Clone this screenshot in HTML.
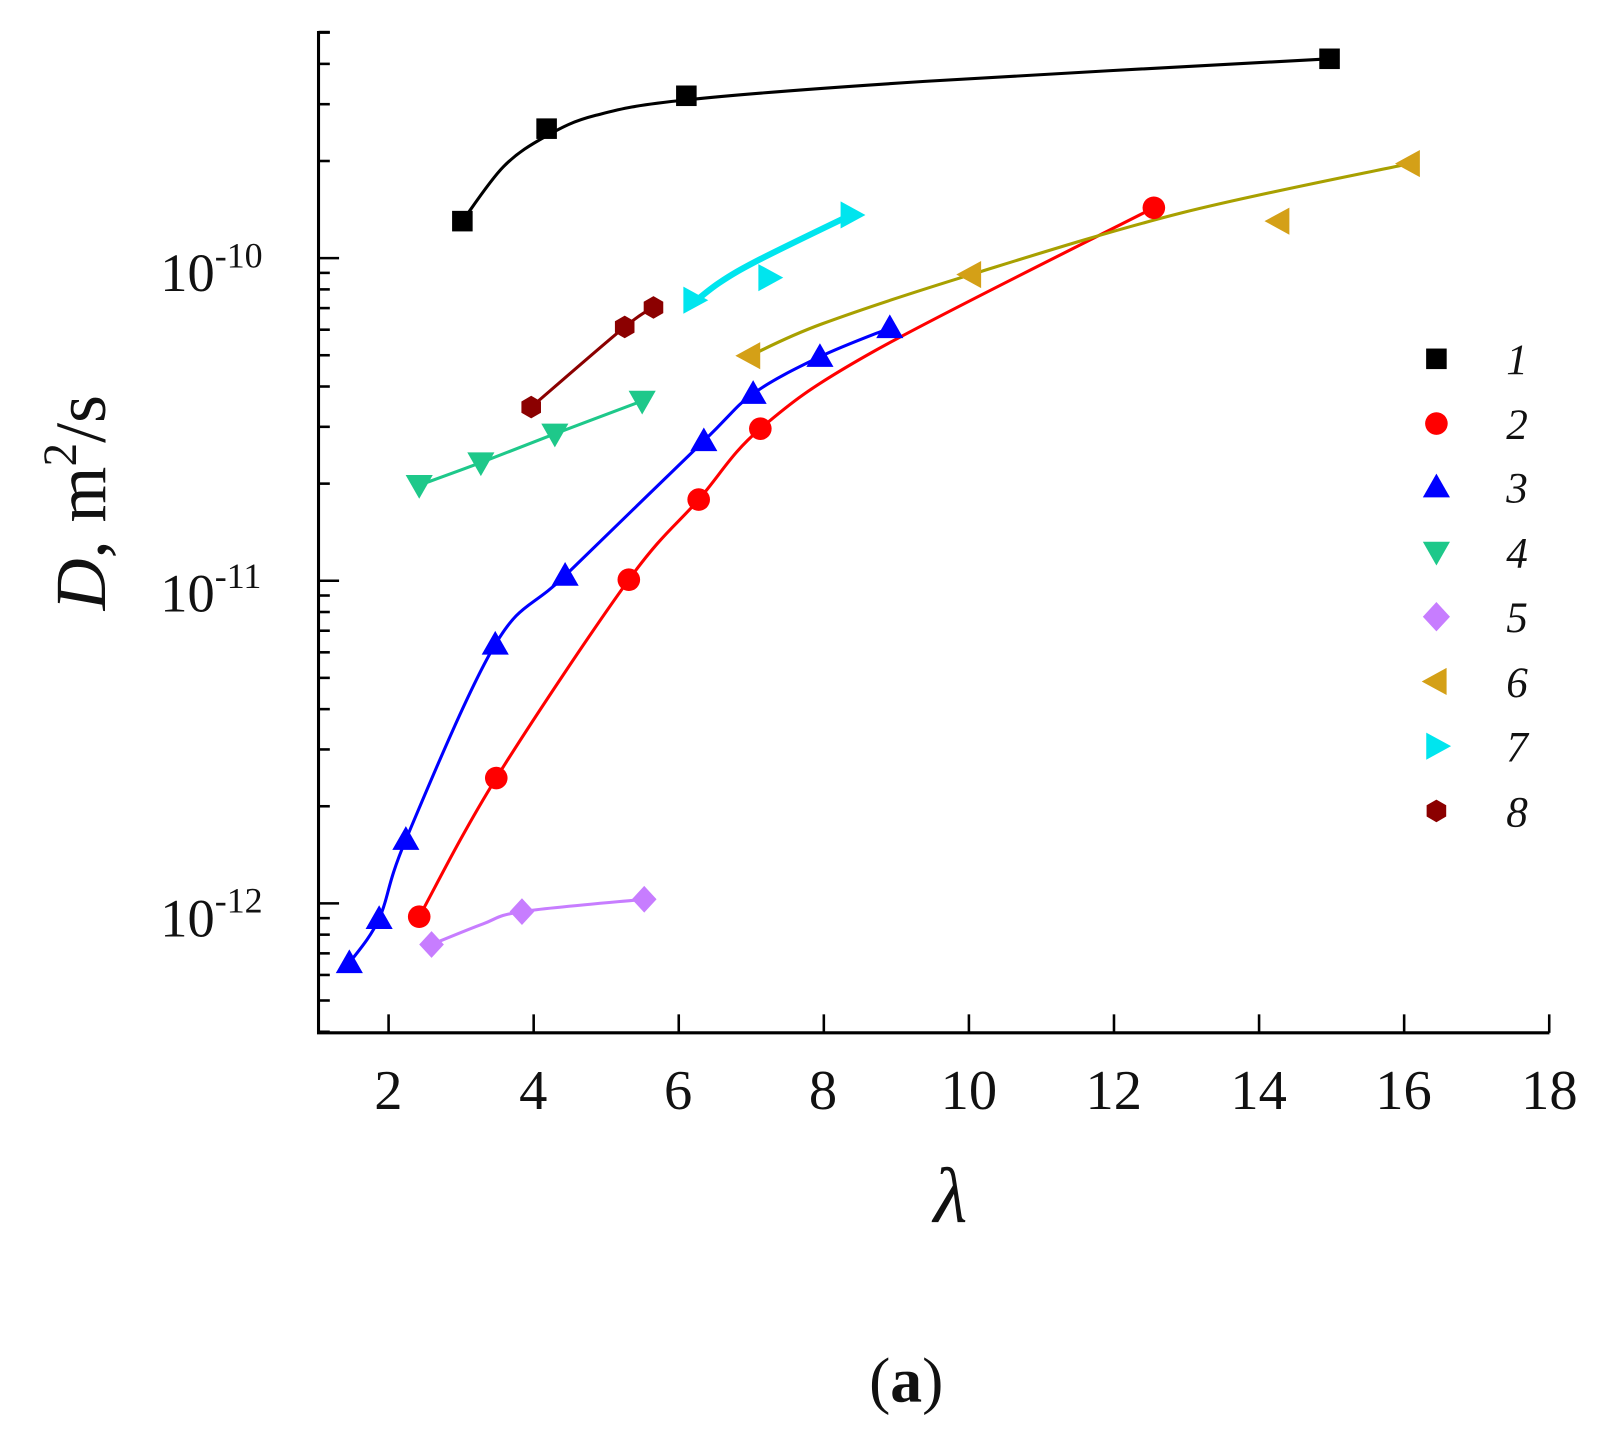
<!DOCTYPE html>
<html><head><meta charset="utf-8"><style>
html,body{margin:0;padding:0;background:#fff;width:1608px;height:1442px;overflow:hidden}
svg{display:block}
text{font-family:"Liberation Serif",serif;fill:#111}
</style></head><body>
<svg id="s" width="1608" height="1442" viewBox="0 0 1565 1403" xmlns="http://www.w3.org/2000/svg">
<g id="g" transform="translate(0,-3)">
<g font-size="53">
<text x="156" y="286">10<tspan dy="-23" font-size="35">-10</tspan></text>
<text x="156" y="598">10<tspan dy="-23" font-size="35">-11</tspan></text>
<text x="156" y="914">10<tspan dy="-23" font-size="35">-12</tspan></text>
</g>
<g font-size="55" text-anchor="middle">
<text x="378" y="1082">2</text><text x="519" y="1082">4</text><text x="660" y="1082">6</text>
<text x="801" y="1082">8</text><text x="943" y="1082">10</text><text x="1084" y="1082">12</text>
<text x="1225" y="1082">14</text><text x="1366" y="1082">16</text><text x="1508" y="1082">18</text>
</g>
<text x="925" y="1192" font-size="76" font-style="italic" text-anchor="middle">λ</text>
<text transform="translate(102,492) rotate(-90)" font-size="70" text-anchor="middle"><tspan font-style="italic">D</tspan>, m<tspan dy="-28" font-size="46">2</tspan><tspan dy="28">/s</tspan></text>
<text x="882" y="1367" font-size="62" text-anchor="middle">(<tspan font-weight="bold">a</tspan>)</text>
<g font-size="42" font-style="italic">
<text x="1466" y="367">1</text><text x="1466" y="430">2</text><text x="1466" y="492">3</text><text x="1466" y="555">4</text>
<text x="1466" y="618">5</text><text x="1466" y="681">6</text><text x="1466" y="744">7</text><text x="1466" y="807">8</text>
</g>
</g>
</svg>
<script>
var g=document.getElementById('g'),NS='http://www.w3.org/2000/svg';
function el(t,a){var e=document.createElementNS(NS,t);for(var k in a)e.setAttribute(k,a[k]);g.appendChild(e);return e;}
function X(l){return 237+70.6*l;}
function Y(lg){return 254+314*(-10-lg);}
el('path',{d:'M310,33 L310,1008 L1508,1008',fill:'none',stroke:'#000','stroke-width':3});
for(var l=2;l<=18;l+=2)el('line',{x1:X(l),x2:X(l),y1:1008,y2:990,stroke:'#000','stroke-width':2.5});
for(var d=-13;d<=-10;d++)for(var m=1;m<=9;m++){var v=d+Math.log10(m);var y=Y(v);if(y<30||y>1008)continue;
 el('line',{x1:310,x2:m==1?330:321,y1:y,y2:y,stroke:'#000','stroke-width':2.5});}
el('line',{x1:310,x2:321,y1:34,y2:34,stroke:'#000','stroke-width':2.5});
function cr(p){var s='M'+p[0][0]+','+p[0][1];for(var i=0;i<p.length-1;i++){var a=p[i-1]||p[i],b=p[i],c=p[i+1],d=p[i+2]||c;
 s+=' C'+(b[0]+(c[0]-a[0])/6)+','+(b[1]+(c[1]-a[1])/6)+' '+(c[0]-(d[0]-b[0])/6)+','+(c[1]-(d[1]-b[1])/6)+' '+c[0]+','+c[1];}return s;}
function line(p,col,w){el('path',{d:cr(p),fill:'none',stroke:col,'stroke-width':w||3});}
function mk(t,x,y,c,r){r=r||11;
 if(t=='s')el('rect',{x:x-r,y:y-r,width:2*r,height:2*r,fill:c});
 else if(t=='c')el('circle',{cx:x,cy:y,r:r,fill:c});
 else if(t=='u')el('polygon',{points:[x,y-r*1.2,x+r*1.2,y+r*0.9,x-r*1.2,y+r*0.9].join(' '),fill:c});
 else if(t=='d')el('polygon',{points:[x,y+r*1.2,x+r*1.2,y-r*0.9,x-r*1.2,y-r*0.9].join(' '),fill:c});
 else if(t=='m')el('polygon',{points:[x,y-r*1.3,x+r*1.2,y,x,y+r*1.3,x-r*1.2,y].join(' '),fill:c});
 else if(t=='l')el('polygon',{points:[x-r*1.3,y,x+r*0.9,y-r*1.2,x+r*0.9,y+r*1.2].join(' '),fill:c});
 else if(t=='r')el('polygon',{points:[x+r*1.3,y,x-r*0.9,y-r*1.2,x-r*0.9,y+r*1.2].join(' '),fill:c});
 else if(t=='h'){var q=[];for(var i=0;i<6;i++){var a=Math.PI/3*i+Math.PI/6;q.push(x+r*Math.cos(a),y+r*Math.sin(a));}el('polygon',{points:q.join(' '),fill:c});}}
line([[450,218],[490,165],[532,135],[580,115],[668,100],[900,82],[1294,60]],'#000');
line([[408,895],[483,760],[612,567],[680,489],[740,420],[850,345],[1123,205]],'#f00');
line([[340,940],[369,897],[395,820],[482,630],[550,563],[685,432],[733,386],[798,350],[866,322]],'#00f');
line([[408,475],[468,453],[540,425],[625,393]],'#1ec88a');
line([[420,922],[470,902],[508,890],[627,878]],'#c77dff');
line([[730,349],[800,318],[945,270],[1150,210],[1372,162]],'#a8a000');
line([[672,300],[700,278],[740,255],[828,212]],'#00e5ee',6);
line([[517,399],[608,321],[636,302]],'#8b0000');
[[450,218],[532,128],[668,96],[1294,60]].forEach(function(p){mk('s',p[0],p[1],'#000',10);});
[[408,895],[483,760],[612,567],[680,489],[740,420],[1123,205]].forEach(function(p){mk('c',p[0],p[1],'#f00',11);});
[[340,940],[369,897],[395,820],[482,630],[550,563],[685,432],[733,386],[798,350],[866,322]].forEach(function(p){mk('u',p[0],p[1],'#00f',11);});
[[408,475],[468,453],[540,425],[625,393]].forEach(function(p){mk('d',p[0],p[1],'#1ec88a',11);});
[[420,922],[508,890],[627,878]].forEach(function(p){mk('m',p[0],p[1],'#c77dff',10);});
[[730,349],[945,270],[1245,218],[1372,162]].forEach(function(p){mk('l',p[0],p[1],'#d4a017',11);});
[[675,295],[748,273],[828,212]].forEach(function(p){mk('r',p[0],p[1],'#00e5ee',11);});
[[517,399],[608,321],[636,302]].forEach(function(p){mk('h',p[0],p[1],'#8b0000',11);});
var ly=[352,415,477,540,603,666,729,792],lt=['s','c','u','d','m','l','r','h'],lc=['#000','#f00','#00f','#1ec88a','#c77dff','#d4a017','#00e5ee','#8b0000'];
for(var i=0;i<8;i++)mk(lt[i],1398,ly[i],lc[i],i==0?10:11);
</script>
</body></html>
